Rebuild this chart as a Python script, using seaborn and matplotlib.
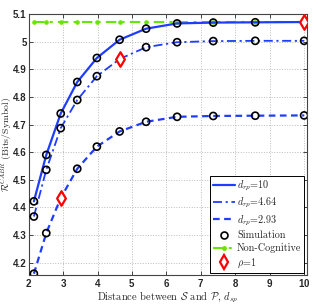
import matplotlib
matplotlib.use("Agg")
import matplotlib.pyplot as plt
import seaborn as sns
import pandas as pd
from matplotlib.lines import Line2D

# distance between S and P (d_sp)
x_dsp = [2.15, 2.51, 2.93, 3.41, 3.98, 4.64, 5.41, 6.31, 7.36, 8.58, 10.0]

# average rate for three relay distances
r_drp10 = [4.422, 4.590, 4.740, 4.854, 4.941, 5.007, 5.047, 5.066, 5.069, 5.070, 5.071]
r_drp464 = [4.367, 4.536, 4.687, 4.789, 4.875, 4.937, 4.980, 4.998, 5.002, 5.003, 5.003]
r_drp293 = [4.160, 4.307, 4.434, 4.540, 4.620, 4.675, 4.710, 4.728, 4.731, 4.732, 4.733]
r_noncog = [5.071] * len(x_dsp)

# index where rho = 1 (d_sp equals d_rp)
rho1_idx = {"10": 10, "4.64": 5, "2.93": 2}

x_ticks = [2, 3, 4, 5, 6, 7, 8, 9, 10]
y_ticks = [4.2, 4.3, 4.4, 4.5, 4.6, 4.7, 4.8, 4.9, 5.0, 5.1]
y_ticklabels = ["4.2", "4.3", "4.4", "4.5", "4.6", "4.7", "4.8", "4.9", "5", "5.1"]

blue = "#1f3dff"
green = "#66e600"

sns.set_style("ticks")
plt.rcParams["mathtext.fontset"] = "cm"
plt.rcParams["axes.formatter.use_mathtext"] = True

fig = plt.figure(figsize=(3.19, 3.05), dpi=100)
ax = fig.add_axes([0.09, 0.098, 0.872, 0.856])

df = pd.DataFrame({"dsp": x_dsp, "d10": r_drp10, "d464": r_drp464,
                   "d293": r_drp293, "nc": r_noncog})

sns.lineplot(data=df, x="dsp", y="nc", ax=ax, color=green, lw=1.5,
             linestyle=(0, (5, 2.5, 1.5, 2.5)), marker=".", markersize=5,
             markeredgecolor=green, zorder=2)
sns.lineplot(data=df, x="dsp", y="d10", ax=ax, color=blue, lw=1.6,
             linestyle="-", zorder=3)
sns.lineplot(data=df, x="dsp", y="d464", ax=ax, color=blue, lw=1.3,
             linestyle=(0, (5, 2, 1.2, 2)), zorder=3)
sns.lineplot(data=df, x="dsp", y="d293", ax=ax, color=blue, lw=1.6,
             linestyle=(0, (3, 2)), zorder=3)

# simulation points (skip the rho=1 spot)
for key, col in [("10", "d10"), ("4.64", "d464"), ("2.93", "d293")]:
    sim = df.drop(index=rho1_idx[key])
    sns.scatterplot(data=sim, x="dsp", y=col, ax=ax, marker="o", s=26,
                    facecolor="none", edgecolor="black", linewidth=1.2,
                    zorder=4)
    pt = df.loc[[rho1_idx[key]]]
    sns.scatterplot(data=pt, x="dsp", y=col, ax=ax, marker="d", s=55,
                    facecolor="white", edgecolor="red", linewidth=1.6,
                    zorder=5)

ax.set_xlim(2, 10.08)
ax.set_ylim(4.155, 5.1)
ax.set_xticks(x_ticks)
ax.set_yticks(y_ticks)
ax.set_yticklabels(y_ticklabels)
for lbl in ax.get_xticklabels() + ax.get_yticklabels():
    lbl.set_fontweight("bold")
    lbl.set_fontfamily("Liberation Sans")
    lbl.set_fontsize(7)
ax.tick_params(direction="in", length=3, width=0.6, top=True, right=True, pad=1.5)
ax.grid(True, linestyle=":", color="#bbbbbb", linewidth=0.7)
for sp in ax.spines.values():
    sp.set_linewidth(0.8)
    sp.set_color("#444444")

ax.set_xlabel(r"Distance between $\mathcal{S}$ and $\mathcal{P}$, $d_{sp}$",
              fontsize=7.5, family="cmr10", labelpad=1)
ax.set_ylabel(r"$\overline{\mathcal{R}}^{CABR}$ (Bits/Symbol)",
              fontsize=7, family="cmr10")
ax.yaxis.set_label_coords(-0.052, 0.5)

handles = [
    Line2D([], [], color=blue, lw=1.6, linestyle="-"),
    Line2D([], [], color=blue, lw=1.3, linestyle=(0, (5, 2, 1.2, 2))),
    Line2D([], [], color=blue, lw=1.6, linestyle=(0, (3, 2))),
    Line2D([], [], color="black", lw=0, marker="o", markersize=5,
           markerfacecolor="none", markeredgewidth=1.2),
    Line2D([], [], color=green, lw=1.5, linestyle=(0, (5, 2.5, 1.5, 2.5)),
           marker=".", markersize=5),
    Line2D([], [], color="red", lw=0, marker="d", markersize=7,
           markerfacecolor="white", markeredgewidth=1.6),
]
labels = [r"$d_{rp}$=10", r"$d_{rp}$=4.64", r"$d_{rp}$=2.93",
          "Simulation", "Non-Cognitive", r"$\rho$=1"]
leg = ax.legend(handles, labels, loc="lower right",
                prop={"family": "cmr10", "size": 7.3}, handlelength=2.2,
                handletextpad=0.2, labelspacing=0.3, borderpad=0.3,
                borderaxespad=0.25, fancybox=False, framealpha=1,
                edgecolor="black")
leg.get_frame().set_linewidth(0.7)

fig.savefig("out.png", dpi=100)
